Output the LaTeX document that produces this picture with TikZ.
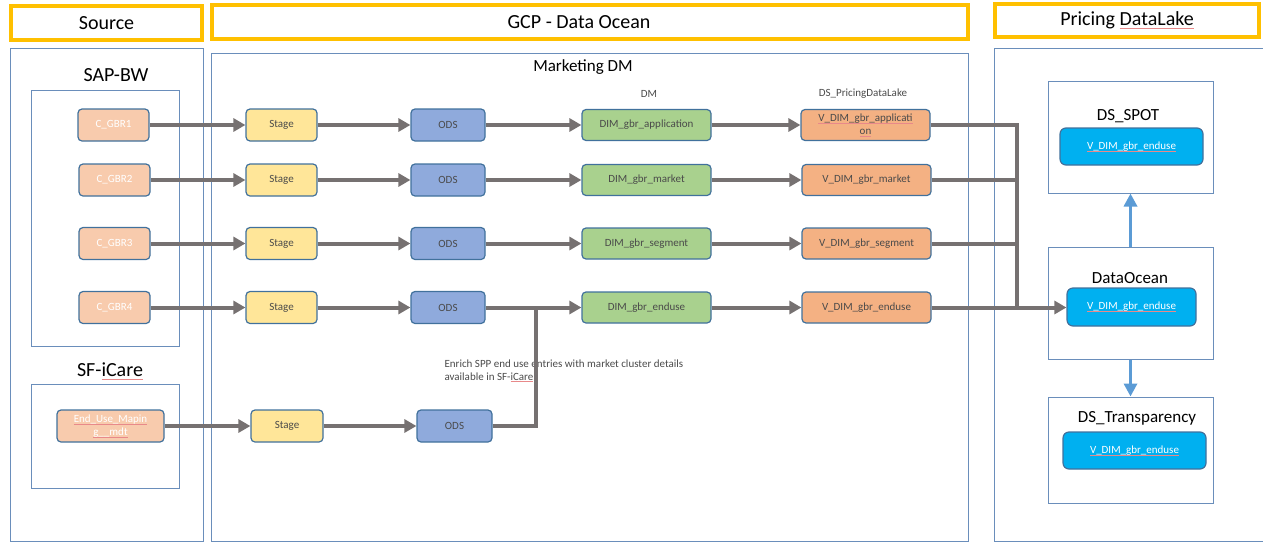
\documentclass[tikz,border=0pt]{standalone}
\usepackage{fontspec}
\setmainfont{Carlito}
\usepackage{tikz}
\usetikzlibrary{arrows.meta,calc}
\definecolor{hdryellow}{HTML}{FFC000}
\definecolor{panelblue}{HTML}{6A8EBB}
\definecolor{nodeedge}{HTML}{41719C}
\definecolor{srcfill}{HTML}{F8CBAD}
\definecolor{stagefill}{HTML}{FFE699}
\definecolor{odsfill}{HTML}{8FAADC}
\definecolor{dimfill}{HTML}{A9D18E}
\definecolor{vdimfill}{HTML}{F4B183}
\definecolor{dsfill}{HTML}{00B0F0}
\definecolor{flowgray}{HTML}{767171}
\definecolor{liftblue}{HTML}{5B9BD5}
\definecolor{txtgray}{HTML}{4A4A4A}
\definecolor{spellred}{HTML}{E8898A}
\newsavebox\spellbox
\newcommand\spellmark[1]{\sbox\spellbox{#1}\usebox\spellbox\llap{\textcolor{spellred}{\rule[-0.3ex]{\wd\spellbox}{0.4pt}}}}    % spell-check line

\begin{document}
\begin{tikzpicture}[x=1pt,y=-1pt,
    box/.style={draw=nodeedge,line width=1.2pt,rounded corners=4pt,text=txtgray,inner sep=1pt,align=center,font=\fontsize{11}{13}\selectfont},
    src/.style={box,fill=srcfill,text=white,minimum width=71pt,minimum height=32pt},
    stagebox/.style={box,fill=stagefill,minimum width=71pt,minimum height=32pt},
    odsbox/.style={box,fill=odsfill,minimum width=74pt,minimum height=32pt},
    dimbox/.style={box,fill=dimfill,minimum width=129pt,minimum height=31pt},
    vdimbox/.style={box,fill=vdimfill,minimum width=129pt,minimum height=31pt},
    dsbox/.style={box,fill=dsfill,text=white,minimum width=143pt,minimum height=37pt,rounded corners=6pt},
    header/.style={draw=hdryellow,line width=3.5pt,inner sep=0pt},
    panel/.style={draw=panelblue,line width=1pt,inner sep=0pt},
    flow/.style={draw=flowgray,line width=4pt,-{Triangle[length=12pt,width=13pt]}},
    bus/.style={draw=flowgray,line width=4pt},
    lift/.style={draw=liftblue,line width=3.5pt,-{Triangle[length=13pt,width=13pt]}},
    big/.style={font=\fontsize{20}{24}\selectfont},
    mid/.style={font=\fontsize{17}{20}\selectfont},
    small/.style={font=\fontsize{11}{13}\selectfont,text=txtgray}]
    \useasboundingbox (0,0) rectangle (1263,544);

    % headers
    \node[header,minimum width=191pt,minimum height=34pt,big] (srchdr) at (106.5,23) {Source};
    \node[header,minimum width=756pt,minimum height=34pt] (gcphdr) at (590,22) {};
    \node[big] (gcplbl) at (579,22) {GCP - Data Ocean};
    \node[header,minimum width=264pt,minimum height=33pt,big] (pdlhdr) at (1127,20.5) {Pricing \spellmark{DataLake}};

    % panels
    \node[panel,minimum width=193pt,minimum height=493pt] (srcpanel) at (106.5,294.5) {};
    \node[panel,minimum width=757pt,minimum height=488pt] (gcppanel) at (589.5,297) {};
    \node[panel,minimum width=276pt,minimum height=493pt] (pdlpanel) at (1132,294.5) {};
    \node[panel,minimum width=148pt,minimum height=256pt] (sapbox) at (105,218) {};
    \node[panel,minimum width=148pt,minimum height=104pt] (sfbox) at (105,436) {};
    \node[panel,minimum width=165pt,minimum height=112pt] (spotbox) at (1130.5,137) {};
    \node[panel,minimum width=165pt,minimum height=112pt] (oceanbox) at (1130.5,303) {};
    \node[panel,minimum width=165pt,minimum height=106pt] (transbox) at (1130.5,450) {};

    % titles
    \node[big] (saplbl) at (116,75) {SAP-BW};
    \node[big] (sflbl) at (110,371) {SF-\spellmark{iCare}};
    \node[mid] (mktlbl) at (583,67) {Marketing DM};
    \node[small] (dmlbl) at (649,94) {DM};
    \node[small] (pdllbl) at (863,94) {DS\_PricingDataLake};
    \node[mid] (spotlbl) at (1128,116) {DS\_SPOT};
    \node[mid] (oceanlbl) at (1130,278) {DataOcean};
    \node[mid] (translbl) at (1137,418) {DS\_Transparency};
    \node[small,align=left,anchor=west] (note) at (441,370.5) {Enrich SPP end use entries with market cluster details\\available in SF-\spellmark{iCare}};

    % source tables
    \node[src] (c1) at (113.5,125) {C\_GBR1};
    \node[src] (c2) at (114.5,180) {C\_GBR2};
    \node[src] (c3) at (114.5,243.5) {C\_GBR3};
    \node[src] (c4) at (114.5,307.5) {C\_GBR4};
    \node[src,minimum width=107pt] (eu) at (110.5,426) {\spellmark{End\_Use\_Mapin}\\\spellmark{g\_\_mdt}};

    % stage and ods
    \node[stagebox] (st1) at (281.5,125) {Stage};
    \node[stagebox] (st2) at (281.5,180) {Stage};
    \node[stagebox] (st3) at (281.5,243.5) {Stage};
    \node[stagebox] (st4) at (281.5,307.5) {Stage};
    \node[stagebox,minimum width=72pt] (st5) at (287,426) {Stage};
    \node[odsbox] (ods1) at (448,125) {ODS};
    \node[odsbox] (ods2) at (448,180) {ODS};
    \node[odsbox] (ods3) at (448,243.5) {ODS};
    \node[odsbox] (ods4) at (448,307.5) {ODS};
    \node[odsbox,minimum width=75pt] (ods5) at (454.5,426) {ODS};

    % dm and views
    \node[dimbox] (dim1) at (646.5,125) {DIM\_gbr\_application};
    \node[dimbox] (dim2) at (646.5,180) {DIM\_gbr\_market};
    \node[dimbox] (dim3) at (646.5,243.5) {DIM\_gbr\_segment};
    \node[dimbox] (dim4) at (646.5,307.5) {DIM\_gbr\_enduse};
    \node[vdimbox] (v1) at (865.5,125) {\spellmark{V\_DIM\_gbr\_applicati}\\\spellmark{on}};
    \node[vdimbox] (v2) at (866.5,180) {V\_DIM\_gbr\_market};
    \node[vdimbox] (v3) at (866.5,243.5) {V\_DIM\_gbr\_segment};
    \node[vdimbox] (v4) at (866.5,307.5) {V\_DIM\_gbr\_enduse};

    % pricing datalake
    \node[dsbox] (dsspot) at (1131.5,146.5) {\spellmark{V\_DIM\_gbr\_enduse}};
    \node[dsbox,minimum width=129pt,minimum height=38pt] (dsocean) at (1131.5,307) {\spellmark{V\_DIM\_gbr\_enduse}};
    \node[dsbox] (dstrans) at (1134.5,450.5) {\spellmark{V\_DIM\_gbr\_enduse}};

    \coordinate (merge) at (536,307.5);
    \coordinate (busend) at (1017,307.5);

    \foreach \i in {1,2,3,4} {
        \draw[flow] (c\i.east) -- (st\i.west);
        \draw[flow] (st\i.east) -- (ods\i.west);
        \draw[flow] (ods\i.east) -- (dim\i.west);
        \draw[flow] (dim\i.east) -- (v\i.west);
    }
    \draw[flow] (eu.east) -- (st5.west);
    \draw[flow] (st5.east) -- (ods5.west);
    \draw[bus] (ods5.east) -| (merge);
    \draw[bus] (v1.east) -| (busend);
    \draw[bus] (v2.east) -- (v2.east -| busend);
    \draw[bus] (v3.east) -- (v3.east -| busend);
    \draw[flow] (v4.east) -- (v4.east -| dsocean.west);

    \draw[lift] (oceanbox.north) -- (spotbox.south);
    \draw[lift] (oceanbox.south) -- (transbox.north);
\end{tikzpicture}
\end{document}
